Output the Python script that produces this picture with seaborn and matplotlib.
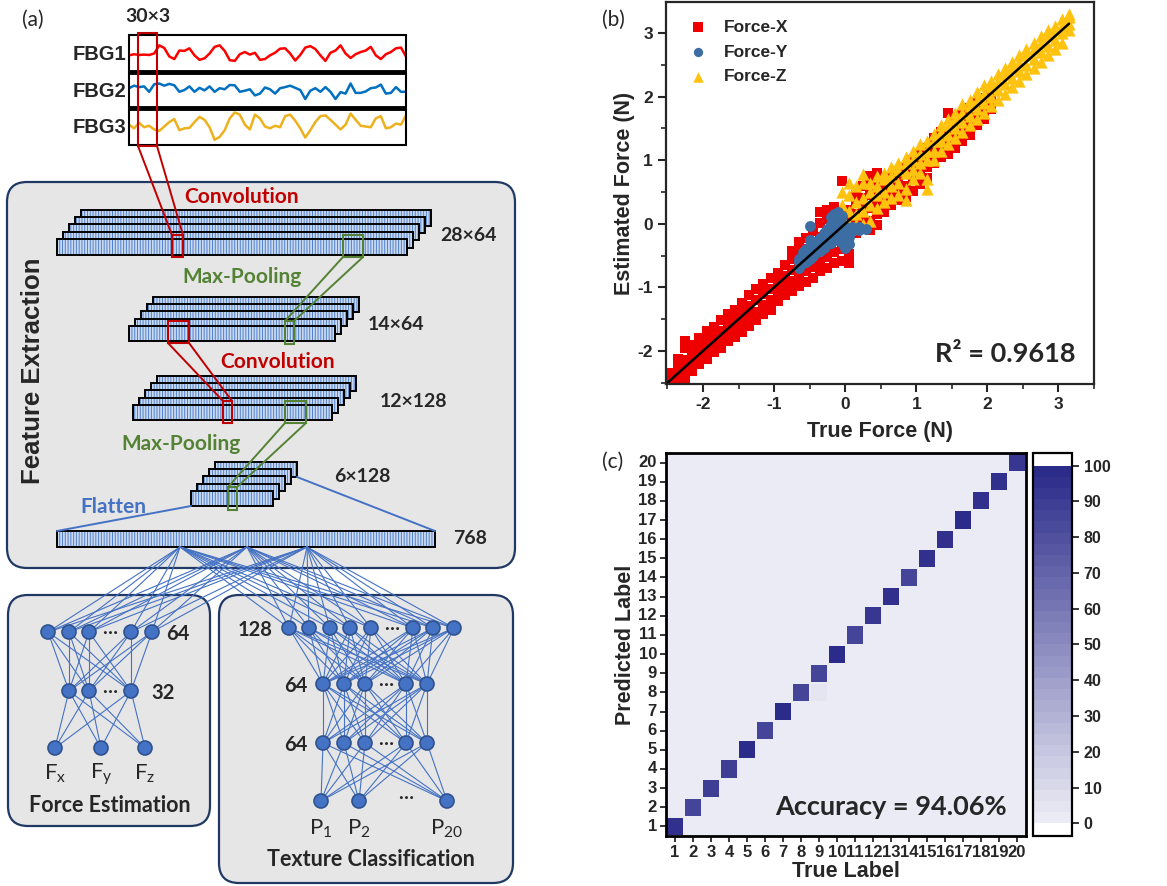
import numpy as np
import pandas as pd
import matplotlib
matplotlib.use("Agg")
import matplotlib.pyplot as plt
import seaborn as sns
from matplotlib.patches import Rectangle, FancyBboxPatch, Circle
from matplotlib.colors import LinearSegmentedColormap
from matplotlib.ticker import MultipleLocator

# ---------------- panel (a): raw FBG signals (normalised height in each strip)
fbg1 = [.45, .48, .46, .47, .46, .50, .72, .65, .42, .35, .58, .57, .64, .45, .33, .37,
        .50, .68, .72, .57, .32, .30, .48, .54, .47, .52, .33, .35, .45, .52, .63, .64,
        .50, .31, .46, .66, .70, .62, .45, .30, .52, .58, .72, .50, .38, .48, .54, .58,
        .68, .45, .35, .48, .54, .64, .66, .42]
fbg2 = [.55, .62, .58, .60, .45, .66, .68, .62, .67, .63, .45, .50, .60, .45, .56, .49,
        .60, .45, .55, .52, .64, .63, .45, .48, .52, .35, .40, .57, .52, .40, .55, .58,
        .62, .56, .50, .25, .48, .55, .45, .58, .45, .25, .44, .40, .68, .42, .42, .46,
        .55, .57, .65, .40, .42, .58, .45, .45]
fbg3 = [.55, .45, .60, .48, .52, .42, .38, .50, .62, .70, .40, .45, .46, .62, .76, .68,
        .48, .14, .22, .40, .72, .88, .82, .55, .42, .82, .72, .50, .45, .52, .48, .78,
        .82, .66, .45, .20, .40, .62, .78, .80, .68, .55, .42, .55, .85, .68, .52, .50,
        .48, .72, .78, .45, .48, .58, .55, .80]
fbg_names = ["FBG1", "FBG2", "FBG3"]
fbg_colors = ["#FF0000", "#0070C0", "#EEB11E"]

# ---------------- panel (b): true vs estimated force (N)
force_x_true = [-2.45, -2.35, -2.25, -2.15, -2.05, -1.95, -1.85, -1.75, -1.65, -1.55,
                -1.45, -1.35, -1.25, -1.15, -1.05, -0.95, -0.85, -0.75, -0.65, -0.55,
                -0.45, -0.35, -0.25, -0.15, -0.05, 0.05, 0.15, 0.25, 0.35, 0.45,
                0.55, 0.65, 0.75, 0.85, 0.95, 1.05, 1.15, 1.25, 1.35, 1.45,
                1.55, 1.65, 1.75, 1.85, 1.95, 2.05]
force_x_est = [
    [-2.52, -2.45, -2.35], [-2.48, -2.38, -2.25, -2.12], [-2.42, -2.3, -2.15, -1.95, -1.85],
    [-2.32, -2.2, -2.05, -1.9], [-2.2, -2.08, -1.95, -1.8], [-2.12, -2.0, -1.85, -1.68],
    [-2.02, -1.9, -1.75, -1.62], [-1.95, -1.82, -1.68, -1.52], [-1.85, -1.72, -1.58, -1.42],
    [-1.78, -1.65, -1.5, -1.35], [-1.7, -1.55, -1.4, -1.25], [-1.6, -1.45, -1.3, -1.12],
    [-1.52, -1.38, -1.2, -1.02], [-1.42, -1.28, -1.1, -0.95], [-1.35, -1.2, -1.02, -0.85],
    [-1.22, -1.08, -0.92, -0.78], [-1.12, -0.98, -0.82, -0.65], [-1.05, -0.9, -0.72, -0.55, -0.42],
    [-0.98, -0.82, -0.65, -0.45, -0.28], [-0.92, -0.75, -0.58, -0.4, -0.22],
    [-0.85, -0.68, -0.5, -0.3, -0.12], [-0.75, -0.6, -0.4, -0.2, 0.02, 0.18],
    [-0.7, -0.52, -0.32, -0.12, 0.08, 0.22], [-0.62, -0.45, -0.25, -0.05, 0.12, 0.26],
    [-0.58, -0.4, -0.2, 0.0, 0.15, 0.68], [-0.62, -0.48, -0.3, -0.1, 0.05, 0.22],
    [-0.15, 0.0, 0.15, 0.32, 0.45], [-0.05, 0.1, 0.25, 0.4, 0.6],
    [-0.1, 0.05, 0.25, 0.45, 0.62, 0.75], [-0.02, 0.15, 0.3, 0.5, 0.68, 0.8],
    [0.18, 0.32, 0.48, 0.62], [0.3, 0.45, 0.6, 0.72], [0.38, 0.52, 0.68, 0.8],
    [0.42, 0.6, 0.78, 0.9], [0.52, 0.7, 0.88, 1.0], [0.62, 0.8, 0.98, 1.1],
    [0.72, 0.9, 1.08, 1.2], [0.95, 1.08, 1.22, 1.35], [1.05, 1.18, 1.32, 1.45],
    [1.1, 1.25, 1.42, 1.74], [1.2, 1.35, 1.5, 1.62], [1.3, 1.45, 1.6, 1.72],
    [1.4, 1.55, 1.7, 1.82], [1.55, 1.68, 1.8, 1.9], [1.65, 1.78, 1.9, 1.98], [1.8, 1.92, 2.02]]
force_y_true = [-0.65, -0.6, -0.55, -0.5, -0.45, -0.4, -0.35, -0.3, -0.25,
                -0.2, -0.15, -0.1, -0.05, 0.0, 0.05, 0.1, 0.2, 0.3]
force_y_est = [
    [-0.7, -0.6, -0.55], [-0.62, -0.5, -0.45], [-0.6, -0.5, -0.4], [-0.55, -0.45, -0.25, -0.04],
    [-0.5, -0.4, -0.35], [-0.45, -0.38, -0.3], [-0.42, -0.32, -0.22], [-0.38, -0.28, -0.15],
    [-0.32, -0.2, -0.08], [-0.3, -0.15, 0.0, 0.1], [-0.25, -0.12, 0.05, 0.15],
    [-0.2, -0.05, 0.1, 0.18], [-0.3, -0.15, 0.0, 0.12], [-0.38, -0.3, -0.12, -0.05],
    [-0.32, -0.2, -0.08], [-0.12, -0.05], [-0.1, -0.05], [-0.08]]
force_z_true = [-0.05, 0.05, 0.15, 0.25, 0.35, 0.45, 0.55, 0.65, 0.75, 0.85, 0.95,
                1.05, 1.15, 1.25, 1.35, 1.45, 1.55, 1.65, 1.75, 1.85, 1.95, 2.05,
                2.15, 2.25, 2.35, 2.45, 2.55, 2.65, 2.75, 2.85, 2.95, 3.05, 3.15]
force_z_est = [
    [-0.02, 0.1, 0.3, 0.5], [0.0, 0.2, 0.45, 0.65], [0.0, 0.15, 0.35, 0.6],
    [0.0, 0.2, 0.4, 0.65, 0.78], [0.05, 0.3, 0.5, 0.65], [0.25, 0.45, 0.6, 0.75],
    [0.35, 0.5, 0.7, 0.8], [0.4, 0.6, 0.75, 0.9], [0.45, 0.65, 0.85, 0.95],
    [0.38, 0.55, 0.8, 0.95, 1.05], [0.7, 0.85, 1.0, 1.15], [0.8, 0.95, 1.1, 1.25],
    [0.55, 0.7, 1.0, 1.15, 1.3], [1.0, 1.15, 1.3, 1.42], [1.15, 1.3, 1.45, 1.55],
    [1.25, 1.4, 1.55, 1.65], [1.35, 1.5, 1.65, 1.75], [1.45, 1.6, 1.75, 1.88],
    [1.55, 1.7, 1.85, 1.95], [1.65, 1.8, 1.95, 2.08], [1.75, 1.9, 2.05, 2.18],
    [1.85, 2.0, 2.15, 2.25], [1.95, 2.1, 2.25, 2.35], [2.05, 2.2, 2.35, 2.45],
    [2.15, 2.3, 2.45, 2.55], [2.25, 2.4, 2.55, 2.65], [2.35, 2.5, 2.65, 2.75],
    [2.45, 2.6, 2.75, 2.85], [2.55, 2.7, 2.85, 2.95], [2.65, 2.8, 2.95, 3.05],
    [2.75, 2.9, 3.05, 3.12], [2.85, 3.0, 3.12, 3.22], [3.05, 3.15, 3.25, 3.3]]
fit_line = [-2.5, 3.15]
r_squared = 0.9618
force_names = ["Force-X", "Force-Y", "Force-Z"]
force_colors = ["#EE0000", "#3C6DA3", "#FFC20E"]
force_markers = ["s", "o", "^"]

# ---------------- panel (c): confusion matrix (%)
class_labels = list(range(1, 21))
diag_pct = [94, 85, 88, 89, 98, 87, 100, 87, 85, 100, 85, 92, 96, 87, 95, 94, 97, 96, 95, 92]
miss_true = [9, 2, 11, 9, 11, 3]
miss_pred = [20, 16, 16, 8, 8, 2]
miss_pct = [3, 2, 2, 5, 3, 3]
accuracy = 94.06

# ---------------- figure setup
sns.set_style("ticks")
plt.rcParams["font.family"] = ["Liberation Sans", "DejaVu Sans"]
plt.rcParams["axes.unicode_minus"] = False
plt.rcParams["hatch.linewidth"] = 0.7

W, H = 1167, 886
fig = plt.figure(figsize=(W / 100, H / 100), dpi=100)


def fax(l, t, r, b):
    # axes placed in pixel coords (top-left origin)
    return fig.add_axes([l / W, 1 - b / H, (r - l) / W, (b - t) / H])


# signal strips
strips = [(35, 72), (72, 108), (108, 145)]
for vals, col, (t, b) in zip([fbg1, fbg2, fbg3], fbg_colors, strips):
    a = fax(129, t, 406, b)
    a.set_facecolor("none")
    sns.lineplot(x=np.arange(len(vals)), y=vals, color=col, lw=1.8, ax=a)
    a.set_xlim(0, len(vals) - 1)
    a.set_ylim(0.0, 1.0)
    a.axis("off")

# ---------------- panel (b)
def long_form(name, xs, ests):
    rows = [(name, x, y) for x, ys in zip(xs, ests) for y in ys]
    return pd.DataFrame(rows, columns=["axis", "true", "est"])


df_force = pd.concat([long_form("Force-X", force_x_true, force_x_est),
                      long_form("Force-Y", force_y_true, force_y_est),
                      long_form("Force-Z", force_z_true, force_z_est)], ignore_index=True)

ax_b = fax(666, 2, 1094, 384)
sizes = {"Force-X": 62, "Force-Y": 62, "Force-Z": 78}
for i in [0, 2, 1]:  # draw order: X, Z, Y on top
    name = force_names[i]
    sns.scatterplot(data=df_force[df_force["axis"] == name], x="true", y="est",
                    color=force_colors[i], marker=force_markers[i], s=sizes[name],
                    linewidth=0, alpha=1, label=name, ax=ax_b)
sns.lineplot(x=fit_line, y=fit_line, color="black", lw=1.8, ax=ax_b)
ax_b.set_xlim(-2.52, 3.5)
ax_b.set_ylim(-2.52, 3.49)
ax_b.xaxis.set_major_locator(MultipleLocator(1))
ax_b.yaxis.set_major_locator(MultipleLocator(1))
ax_b.xaxis.set_minor_locator(MultipleLocator(0.5))
ax_b.yaxis.set_minor_locator(MultipleLocator(0.5))
ax_b.tick_params(which="major", direction="out", length=6, width=1.5, labelsize=12.5)
ax_b.tick_params(which="minor", direction="out", length=3.5, width=1.2)
for lbl in ax_b.get_xticklabels() + ax_b.get_yticklabels():
    lbl.set_fontweight("bold")
for sp in ax_b.spines.values():
    sp.set_visible(True)
    sp.set_linewidth(1.6)
ax_b.set_xlabel("True Force (N)", fontsize=15.5, fontweight="bold", labelpad=6)
ax_b.set_ylabel("Estimated Force (N)", fontsize=15.5, fontweight="bold", labelpad=2)
h, l = ax_b.get_legend_handles_labels()
order = [l.index(n) for n in force_names]
ax_b.legend([h[k] for k in order], [l[k] for k in order], loc="upper left",
            bbox_to_anchor=(0.025, 0.985), frameon=False,
            prop={"weight": "bold", "size": 12.5}, handlelength=1.0, handletextpad=1.0,
            labelspacing=0.55, borderaxespad=0.3, markerscale=0.85)
ax_b.text(0.956, 0.058, f"R² = {r_squared:.4f}", transform=ax_b.transAxes, ha="right",
          va="baseline", fontsize=19.5, fontweight="bold", family="Lato")

# ---------------- panel (c)
cm = np.zeros((20, 20))
cm[np.arange(20), np.arange(20)] = diag_pct
for t, p, v in zip(miss_true, miss_pred, miss_pct):
    cm[p - 1, t - 1] = v
cm_df = pd.DataFrame(cm[::-1], index=class_labels[::-1], columns=class_labels)

cm_cmap = LinearSegmentedColormap.from_list("lav", ["#EBEBF5", "#2B2B8A"], N=32)
cm_cmap.set_under("white")
cm_cmap.set_over("white")

ax_c = fax(666, 453, 1026, 836)
cax = fax(1033, 453, 1072, 836)
sns.heatmap(cm_df, ax=ax_c, cbar_ax=cax, cmap=cm_cmap, vmin=0, vmax=100,
            linewidths=0.3, linecolor="#EBEBF5",
            xticklabels=class_labels, yticklabels=class_labels[::-1],
            cbar_kws=dict(extend="both", extendrect=True, extendfrac=0.035,
                          ticks=list(range(0, 101, 10))))
for sp in ax_c.spines.values():
    sp.set_visible(True)
    sp.set_linewidth(2)
    sp.set_color("black")
ax_c.tick_params(direction="out", length=4.5, width=1.3, labelsize=12, pad=2)
ax_c.set_xticklabels(class_labels, rotation=0, fontweight="bold")
ax_c.set_yticklabels(class_labels[::-1], rotation=0, fontweight="bold")
ax_c.set_xlabel("True Label", fontsize=15.5, fontweight="bold", labelpad=1)
ax_c.set_ylabel("Predicted Label", fontsize=15.5, fontweight="bold", labelpad=2)
ax_c.text(0.947, 0.055, f"Accuracy = {accuracy:.2f}%", transform=ax_c.transAxes, ha="right",
          va="baseline", fontsize=19.5, fontweight="bold", family="Lato")
cbar = ax_c.collections[0].colorbar
cbar.outline.set_linewidth(1.6)
cbar.outline.set_edgecolor("black")
cax.tick_params(direction="out", length=5, width=1.3, labelsize=11.5)
for lbl in cax.get_yticklabels():
    lbl.set_fontweight("bold")

# ---------------- panel (a): network diagram, drawn in pixel coords
ov = fig.add_axes([0, 0, 1, 1], facecolor="none", zorder=10)
ov.set_xlim(0, W)
ov.set_ylim(H, 0)
ov.axis("off")

RED, GREEN, BLUE, NAVY = "#C00000", "#548235", "#4472C4", "#203864"
BOXFILL = "#E7E6E6"


def rbox(l, t, r, b):
    ov.add_patch(FancyBboxPatch((l, t), r - l, b - t, boxstyle="round,pad=0,rounding_size=20",
                                facecolor=BOXFILL, edgecolor=NAVY, lw=1.6, zorder=0.5))


rbox(7, 182, 515, 568)
rbox(8, 595, 210, 826)
rbox(219, 595, 513, 883)

# signal frame and separators
ov.add_patch(Rectangle((129, 35), 277, 110, fill=False, ec="black", lw=1.5))
for y in [72, 108]:
    ov.plot([129, 406], [y, y], color="black", lw=3.5, solid_capstyle="butt")
for name, (t, b) in zip(fbg_names, strips):
    ov.text(126, (t + b) / 2 + 1, name, ha="right", va="center", fontsize=14.5, fontweight="bold")
ov.text(148, 16, "30×3", ha="center", va="center", fontsize=14, fontweight="bold", family="Lato")


def fmap(x, y, w, h, n=5, dx=6, dy=-7.3):
    for k in range(n - 1, -1, -1):
        xx, yy = x + k * dx, y + k * dy
        ov.add_patch(Rectangle((xx, yy), w, h, facecolor="#CADAF2", edgecolor="#4F7FCC",
                               hatch="||||||", lw=0))
        ov.add_patch(Rectangle((xx, yy), w, h, fill=False, edgecolor="black", lw=1.4))


fmap(57, 239, 350, 16)
fmap(129, 326, 206, 15)
fmap(133, 405, 199, 15)
fmap(191, 491, 82, 15)
fmap(57, 531, 378, 16, n=1)


def window(x, y, w, h, col):
    ov.add_patch(Rectangle((x, y), w, h, fill=False, edgecolor=col, lw=1.5, zorder=2.5))


def link(p, q, col, lw=1.4):
    ov.plot([p[0], q[0]], [p[1], q[1]], color=col, lw=lw, zorder=2.4)


window(138, 33, 19, 113, RED)
window(172, 235, 11, 22, RED)
link((138, 146), (172, 235), RED)
link((157, 146), (183, 235), RED)
window(343, 235, 20, 22, GREEN)
window(285, 321, 9, 23, GREEN)
link((343, 257), (285, 321), GREEN)
link((363, 257), (294, 321), GREEN)
window(168, 321, 21, 22, RED)
window(223, 401, 9, 22, RED)
link((168, 343), (223, 401), RED)
link((189, 343), (232, 401), RED)
window(285, 401, 21, 22, GREEN)
window(228, 487, 9, 23, GREEN)
link((285, 423), (228, 487), GREEN)
link((306, 423), (237, 487), GREEN)
link((191, 506), (57, 531), BLUE)
link((297, 477), (435, 531), BLUE)

ov.text(242, 197, "Convolution", ha="center", va="center", fontsize=15, fontweight="bold", color=RED, family="Lato")
ov.text(440, 235, "28×64", ha="left", va="center", fontsize=14, fontweight="bold", family="Lato")
ov.text(242, 277, "Max-Pooling", ha="center", va="center", fontsize=15, fontweight="bold", color=GREEN, family="Lato")
ov.text(368, 324, "14×64", ha="left", va="center", fontsize=14, fontweight="bold", family="Lato")
ov.text(278, 362, "Convolution", ha="center", va="center", fontsize=15, fontweight="bold", color=RED, family="Lato")
ov.text(380, 401, "12×128", ha="left", va="center", fontsize=14, fontweight="bold", family="Lato")
ov.text(181, 444, "Max-Pooling", ha="center", va="center", fontsize=15, fontweight="bold", color=GREEN, family="Lato")
ov.text(334, 476, "6×128", ha="left", va="center", fontsize=14, fontweight="bold", family="Lato")
ov.text(113, 507, "Flatten", ha="center", va="center", fontsize=15, fontweight="bold", color=BLUE, family="Lato")
ov.text(453, 538, "768", ha="left", va="center", fontsize=14, fontweight="bold", family="Lato")
ov.text(33, 371, "Feature Extraction", ha="center", va="center", rotation=90, fontsize=18.5,
        fontweight="bold")

# dense heads
flat_src = [180, 247, 307]
force_nodes = [(632, [48, 69, 89, 131, 152]), (691, [69, 89, 131]), (748, [55, 101, 145])]
tex_nodes = [(628, [289, 309, 330, 350, 371, 413, 433, 454]), (684, [323, 344, 365, 406, 427]),
             (743, [323, 344, 365, 406, 427]), (801, [321, 359, 447])]

for y0, xs in [force_nodes[0], tex_nodes[0]]:
    for sx in flat_src:
        for x in xs:
            link((sx, 547), (x, y0), BLUE, lw=0.8)
for layers in [force_nodes, tex_nodes]:
    for (ya, xa), (yb, xb) in zip(layers[:-1], layers[1:]):
        for x1 in xa:
            for x2 in xb:
                link((x1, ya), (x2, yb), BLUE, lw=0.8)
    for y0, xs in layers:
        for x in xs:
            ov.add_patch(Circle((x, y0), 7, facecolor=BLUE, edgecolor="#2F528F", lw=1.2, zorder=3))

for x, y in [(110, 632), (110, 691), (392, 628), (386, 684), (386, 743), (406, 797)]:
    ov.text(x, y + 2, "…", ha="center", va="baseline", fontsize=14, fontweight="bold", family="Lato")

ov.text(178, 634, "64", ha="center", va="center", fontsize=14.5, fontweight="bold", family="Lato")
ov.text(163, 693, "32", ha="center", va="center", fontsize=14.5, fontweight="bold", family="Lato")
for x, s in zip([55, 101, 145], ["x", "y", "z"]):
    ov.text(x, 774, r"F$_\mathregular{" + s + "}$", ha="center", va="center", fontsize=16, family="Lato")
ov.text(110, 805, "Force Estimation", ha="center", va="center", fontsize=15.5, fontweight="bold", family="Lato")
ov.text(255, 630, "128", ha="center", va="center", fontsize=14.5, fontweight="bold", family="Lato")
ov.text(296, 686, "64", ha="center", va="center", fontsize=14.5, fontweight="bold", family="Lato")
ov.text(296, 745, "64", ha="center", va="center", fontsize=14.5, fontweight="bold", family="Lato")
for x, s in zip([321, 359, 447], ["1", "2", "20"]):
    ov.text(x, 829, r"P$_\mathregular{" + s + "}$", ha="center", va="center", fontsize=16, family="Lato")
ov.text(371, 859, "Texture Classification", ha="center", va="center", fontsize=15.5, fontweight="bold", family="Lato")

# panel tags
ov.text(33, 20, "(a)", ha="center", va="center", fontsize=15, family="Lato")
ov.text(613, 20, "(b)", ha="center", va="center", fontsize=15, family="Lato")
ov.text(613, 462, "(c)", ha="center", va="center", fontsize=15, family="Lato")

fig.savefig("out.png", dpi=100)
